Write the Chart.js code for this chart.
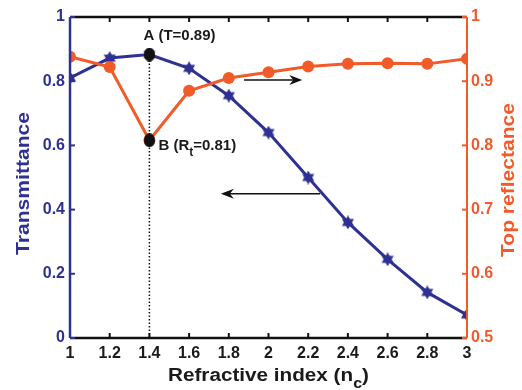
<!DOCTYPE html>
<html><head><meta charset="utf-8">
<script src="https://cdn.jsdelivr.net/npm/chart.js@4/dist/chart.umd.min.js"></script>
<style>html,body{margin:0;padding:0;background:#fff}#wrap{width:522px;height:390px}</style>
</head><body><div id="wrap"><canvas id="c" width="522" height="390"></canvas></div>
<script>
const refractiveIndex = [1, 1.2, 1.4, 1.6, 1.8, 2.0, 2.2, 2.4, 2.6, 2.8, 3.0];
const transmittance = [0.81, 0.872, 0.883, 0.84, 0.755, 0.64, 0.50, 0.36, 0.245, 0.142, 0.072];
const topReflectance = [0.938, 0.922, 0.808, 0.885, 0.905, 0.914, 0.923, 0.927, 0.928, 0.927, 0.935];
const pointA = {x: 1.4, y: 0.883};
const pointB = {x: 1.4, y: 0.808};
const arrowRight = {x0: 1.877, x1: 2.17, y: 0.804};
const arrowLeft = {x0: 2.26, x1: 1.76, y: 0.449};
const leftTicks = [0, 0.2, 0.4, 0.6, 0.8, 1];
const rightTicks = [0.5, 0.6, 0.7, 0.8, 0.9, 1];
const xTicks = [1, 1.2, 1.4, 1.6, 1.8, 2, 2.2, 2.4, 2.6, 2.8, 3];

const BLUE = '#2e3192';
const RED = '#f15a29';
const FONT = '"Liberation Sans", Arial, sans-serif';

function makeStar(size, color) {
  const c = document.createElement('canvas');
  c.width = size; c.height = size;
  const g = c.getContext('2d');
  const r = size / 2, cx = r, cy = r;
  g.fillStyle = color;
  for (let k = 0; k < 2; k++) {
    g.beginPath();
    for (let i = 0; i < 3; i++) {
      const a = -Math.PI / 2 + k * Math.PI + i * 2 * Math.PI / 3;
      const px = cx + r * Math.cos(a), py = cy + r * Math.sin(a);
      if (i === 0) g.moveTo(px, py); else g.lineTo(px, py);
    }
    g.closePath(); g.fill();
  }
  return c;
}
function makeEllipse(w, h, color) {
  const c = document.createElement('canvas');
  c.width = w; c.height = h;
  const g = c.getContext('2d');
  g.fillStyle = color;
  g.beginPath(); g.ellipse(w/2, h/2, w/2, h/2, 0, 0, Math.PI*2); g.fill();
  return c;
}
const starImg = makeStar(14, BLUE);
const dotImg = makeEllipse(11, 14, '#111');

const xy = (xs, ys) => xs.map((x, i) => ({x, y: ys[i]}));

function arrow(ctx, x0, y, x1) {
  const dir = Math.sign(x1 - x0);
  ctx.save();
  ctx.strokeStyle = '#111'; ctx.fillStyle = '#111'; ctx.lineWidth = 1.5;
  ctx.beginPath(); ctx.moveTo(x0, y); ctx.lineTo(x1 - dir*6, y); ctx.stroke();
  ctx.beginPath();
  ctx.moveTo(x1, y);
  ctx.lineTo(x1 - dir*13, y - 5);
  ctx.lineTo(x1 - dir*9, y);
  ctx.lineTo(x1 - dir*13, y + 5);
  ctx.closePath(); ctx.fill();
  ctx.restore();
}

// draw text stretched along its own direction to a target length
function stretchedText(ctx, parts, cx, cy, rot, target) {
  // parts: [{t, size, dy}]
  let total = 0;
  parts.forEach(p => { ctx.font = 'bold ' + p.size + 'px ' + FONT; p.w = ctx.measureText(p.t).width; total += p.w; });
  const k = target / total;
  ctx.save();
  ctx.translate(cx, cy); ctx.rotate(rot); ctx.scale(k, 1);
  ctx.textAlign = 'left'; ctx.textBaseline = 'middle';
  let x = -total / 2;
  parts.forEach(p => { ctx.font = 'bold ' + p.size + 'px ' + FONT; ctx.fillText(p.t, x, p.dy || 0); x += p.w; });
  ctx.restore();
}

const decor = {
  id: 'decor',
  beforeDatasetsDraw(chart) {
    const {ctx, chartArea: a, scales} = chart;
    const x = scales.x, y = scales.y;
    ctx.save();
    ctx.strokeStyle = '#111'; ctx.lineWidth = 1.5; ctx.setLineDash([1.5, 2]);
    const px = x.getPixelForValue(pointA.x);
    ctx.beginPath(); ctx.moveTo(px, a.bottom); ctx.lineTo(px, y.getPixelForValue(pointA.y)); ctx.stroke();
    ctx.setLineDash([]);
    arrow(ctx, x.getPixelForValue(arrowRight.x0), y.getPixelForValue(arrowRight.y), x.getPixelForValue(arrowRight.x1));
    arrow(ctx, x.getPixelForValue(arrowLeft.x0), y.getPixelForValue(arrowLeft.y), x.getPixelForValue(arrowLeft.x1));
    ctx.restore();
  },
  afterDatasetsDraw(chart) {
    const {ctx, chartArea: a, scales} = chart;
    const x = scales.x, y = scales.y, y1 = scales.y1;
    ctx.save();
    ctx.lineWidth = 2.5;
    ctx.strokeStyle = '#111';
    ctx.beginPath(); ctx.moveTo(a.left, a.top); ctx.lineTo(a.right, a.top); ctx.stroke();
    ctx.beginPath(); ctx.moveTo(a.left, a.bottom); ctx.lineTo(a.right, a.bottom); ctx.stroke();
    ctx.lineWidth = 2;
    xTicks.forEach(v => {
      const p = x.getPixelForValue(v);
      ctx.beginPath(); ctx.moveTo(p, a.bottom); ctx.lineTo(p, a.bottom - 5); ctx.stroke();
      ctx.beginPath(); ctx.moveTo(p, a.top); ctx.lineTo(p, a.top + 5); ctx.stroke();
    });
    ctx.strokeStyle = BLUE; ctx.lineWidth = 2.5;
    ctx.beginPath(); ctx.moveTo(a.left, a.top); ctx.lineTo(a.left, a.bottom); ctx.stroke();
    ctx.lineWidth = 2;
    leftTicks.forEach(v => {
      const p = y.getPixelForValue(v);
      ctx.beginPath(); ctx.moveTo(a.left, p); ctx.lineTo(a.left + 5, p); ctx.stroke();
    });
    ctx.strokeStyle = RED; ctx.lineWidth = 2;
    ctx.beginPath(); ctx.moveTo(a.right, a.top); ctx.lineTo(a.right, a.bottom); ctx.stroke();
    rightTicks.forEach(v => {
      const p = y1.getPixelForValue(v);
      ctx.beginPath(); ctx.moveTo(a.right, p); ctx.lineTo(a.right - 5, p); ctx.stroke();
    });
    // annotations
    ctx.fillStyle = '#1a1a1a';
    ctx.font = 'bold 15px ' + FONT;
    ctx.textBaseline = 'middle'; ctx.textAlign = 'left';
    const ax = x.getPixelForValue(pointA.x), ay = y.getPixelForValue(pointA.y);
    ctx.fillText('A (T=0.89)', ax - 6, ay - 19);
    const bx = x.getPixelForValue(pointB.x) + 9, by = y1.getPixelForValue(pointB.y) + 6;
    let t = 'B (R';
    ctx.fillText(t, bx, by);
    let w = ctx.measureText(t).width;
    ctx.font = 'bold 12px ' + FONT;
    ctx.fillText('t', bx + w, by + 6);
    w += ctx.measureText('t').width;
    ctx.font = 'bold 15px ' + FONT;
    ctx.fillText('=0.81)', bx + w, by);
    // axis titles
    ctx.fillStyle = BLUE;
    stretchedText(ctx, [{t: 'Transmittance', size: 18}], 24, 183.5, -Math.PI/2, 143);
    ctx.fillStyle = RED;
    stretchedText(ctx, [{t: 'Top reflectance', size: 18}], 509, 180, -Math.PI/2, 154);
    ctx.fillStyle = '#1a1a1a';
    stretchedText(ctx, [{t: 'Refractive index (n', size: 18}, {t: 'c', size: 14, dy: 8}, {t: ')', size: 18}],
      (a.left + a.right) / 2, 376, 0, 201);
    ctx.restore();
  }
};

const tickFont = {family: FONT, size: 16, weight: 'bold'};
const fmt = v => String(Math.round(v * 10) / 10);

new Chart(document.getElementById('c'), {
  type: 'line',
  data: {
    datasets: [
      {label: 'A', data: [pointA], yAxisID: 'y', pointStyle: dotImg, showLine: false, order: 0},
      {label: 'B', data: [pointB], yAxisID: 'y1', pointStyle: dotImg, showLine: false, order: 0},
      {label: 'Transmittance', data: xy(refractiveIndex, transmittance), yAxisID: 'y',
       borderColor: BLUE, borderWidth: 3, pointStyle: starImg, tension: 0, order: 2},
      {label: 'Top reflectance', data: xy(refractiveIndex, topReflectance), yAxisID: 'y1',
       borderColor: RED, backgroundColor: RED, borderWidth: 3, pointStyle: 'circle', pointRadius: 6,
       pointBorderWidth: 0, tension: 0, order: 1}
    ]
  },
  options: {
    responsive: false, animation: false,
    layout: {padding: {top: 17, right: 0, left: 0, bottom: 0}},
    plugins: {legend: {display: false}, tooltip: {enabled: false}},
    scales: {
      x: {type: 'linear', min: 1, max: 3,
        afterFit(s) { s.height = 52; },
        afterBuildTicks(s) { s.ticks = xTicks.map(v => ({value: v})); },
        grid: {display: false, drawTicks: false}, border: {display: false},
        ticks: {color: '#1a1a1a', font: tickFont, padding: 6, maxRotation: 0, callback: fmt}},
      y: {position: 'left', min: 0, max: 1,
        afterFit(s) { s.width = 70; },
        afterBuildTicks(s) { s.ticks = leftTicks.map(v => ({value: v})); },
        grid: {display: false, drawTicks: false}, border: {display: false},
        ticks: {color: BLUE, font: tickFont, padding: 5, callback: fmt}},
      y1: {position: 'right', min: 0.5, max: 1,
        afterFit(s) { s.width = 55; },
        afterBuildTicks(s) { s.ticks = rightTicks.map(v => ({value: v})); },
        grid: {display: false, drawTicks: false}, border: {display: false},
        ticks: {color: RED, font: tickFont, padding: 4, callback: fmt}}
    }
  },
  plugins: [decor]
});
</script></body></html>
